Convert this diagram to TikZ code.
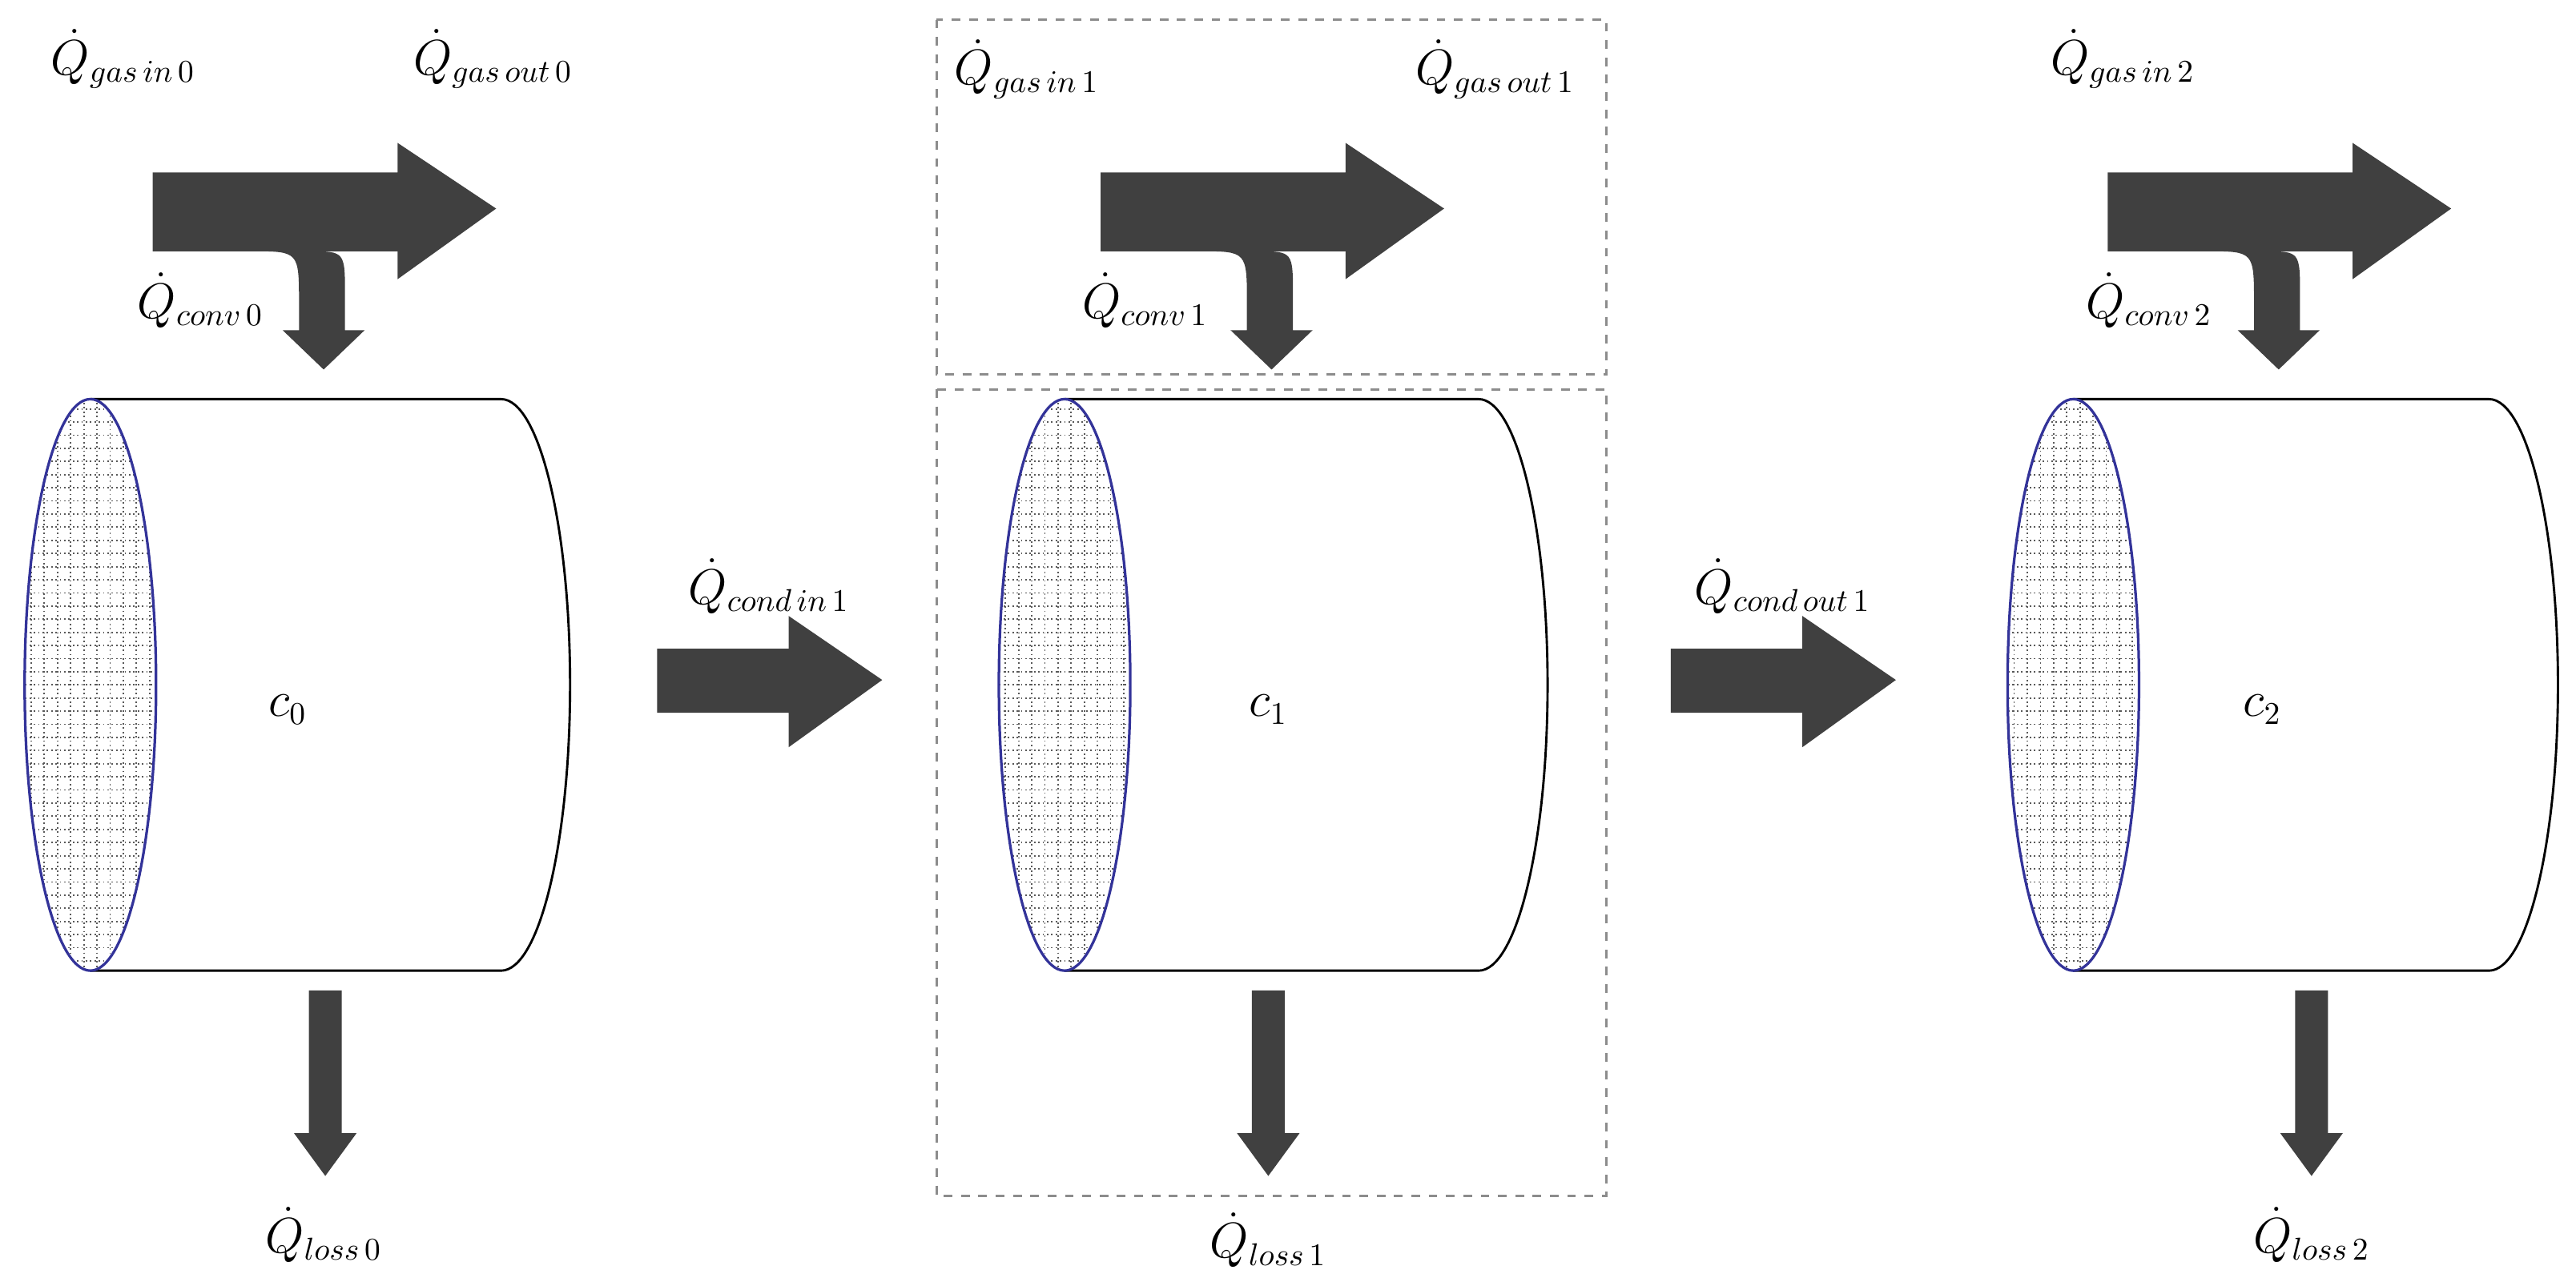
\documentclass[tikz,border=0pt]{standalone}
\usetikzlibrary{calc}
\begin{document}
\begin{tikzpicture}[x=0.02cm,y=-0.02cm,
  lbl/.style={font=\fontsize{16}{19}\selectfont, inner sep=1pt},
  fat/.style={fill=black!75, draw=none},
  dbox/.style={draw=black!45, dashed, line width=0.8pt},
  cyl/.style={draw=black, line width=0.8pt}]
\useasboundingbox (0,0) rectangle (1568,778);
\newcommand{\gasarrow}[2]{%
 \fill[fat,shift={(#1,#2)}] (0,0) -- (149,0) -- (149,-18) -- (209,22) -- (149,65) -- (149,48) -- (95,48)
   .. controls (117,48) .. (117,75) -- (117,96) -- (129,96) -- (104,120) -- (79,96) -- (89,96) -- (89,80)
   .. controls (89,48) .. (60,48) -- (0,48) -- cycle;}
\newcommand{\cylinder}[2]{% #1 front center x, #2 back x
 \draw[cyl,fill=white] (#1,243) -- (#2,243) arc[start angle=-90,end angle=90,x radius=42,y radius=174] -- (#1,591);
 \begin{scope}
  \clip (#1,417) ellipse[x radius=40,y radius=174];
  \fill[white] (#1,417) ellipse[x radius=40,y radius=174];
  \foreach \i in {-44,-36,...,44} \draw[black!65,densely dotted,line width=0.5pt] (#1+\i,240) -- (#1+\i,595);
  \foreach \j in {241,249,...,595} \draw[black!65,densely dotted,line width=0.5pt] (#1-45,\j) -- (#1+45,\j);
 \end{scope}
 \draw[blue!50!black!80,line width=0.9pt] (#1,417) ellipse[x radius=40,y radius=174];}
\newcommand{\lossarrow}[1]{%
 \fill[fat] (#1-10,603) -- (#1+10,603) -- (#1+10,690) -- (#1+19,690) -- (#1,716) -- (#1-19,690) -- (#1-10,690) -- cycle;}
\newcommand{\condarrow}[1]{%
 \fill[fat] (#1,395) -- (#1+80,395) -- (#1+80,375) -- (#1+137,414) -- (#1+80,455) -- (#1+80,434) -- (#1,434) -- cycle;}

\draw[dbox] (570,12) rectangle (978,228);
\draw[dbox] (570,237) rectangle (978,728);

\gasarrow{93}{105}
\gasarrow{670}{105}
\gasarrow{1283}{105}
\cylinder{55}{305}
\cylinder{648}{900}
\cylinder{1262}{1515}
\lossarrow{198}
\lossarrow{772}
\lossarrow{1407}
\condarrow{400}
\condarrow{1017}

\node[lbl] (c0) at (175,432) {$c_0$};
\node[lbl] (c1) at (772,432) {$c_1$};
\node[lbl] (c2) at (1377,432) {$c_2$};
\node[lbl] (gi0) at (75,36) {$\dot Q_{gas\,in\,0}$};
\node[lbl] (go0) at (300,36) {$\dot Q_{gas\,out\,0}$};
\node[lbl] (cv0) at (122,183) {$\dot Q_{conv\,0}$};
\node[lbl] (gi1) at (625,42) {$\dot Q_{gas\,in\,1}$};
\node[lbl] (go1) at (910,42) {$\dot Q_{gas\,out\,1}$};
\node[lbl] (cv1) at (697,183) {$\dot Q_{conv\,1}$};
\node[lbl] (gi2) at (1292,36) {$\dot Q_{gas\,in\,2}$};
\node[lbl] (cv2) at (1308,183) {$\dot Q_{conv\,2}$};
\node[lbl] (ci1) at (468,357) {$\dot Q_{cond\,in\,1}$};
\node[lbl] (co1) at (1085,357) {$\dot Q_{cond\,out\,1}$};
\node[lbl] (l0) at (197,752) {$\dot Q_{loss\,0}$};
\node[lbl] (l1) at (772,755) {$\dot Q_{loss\,1}$};
\node[lbl] (l2) at (1407,752) {$\dot Q_{loss\,2}$};
\end{tikzpicture}
\end{document}
